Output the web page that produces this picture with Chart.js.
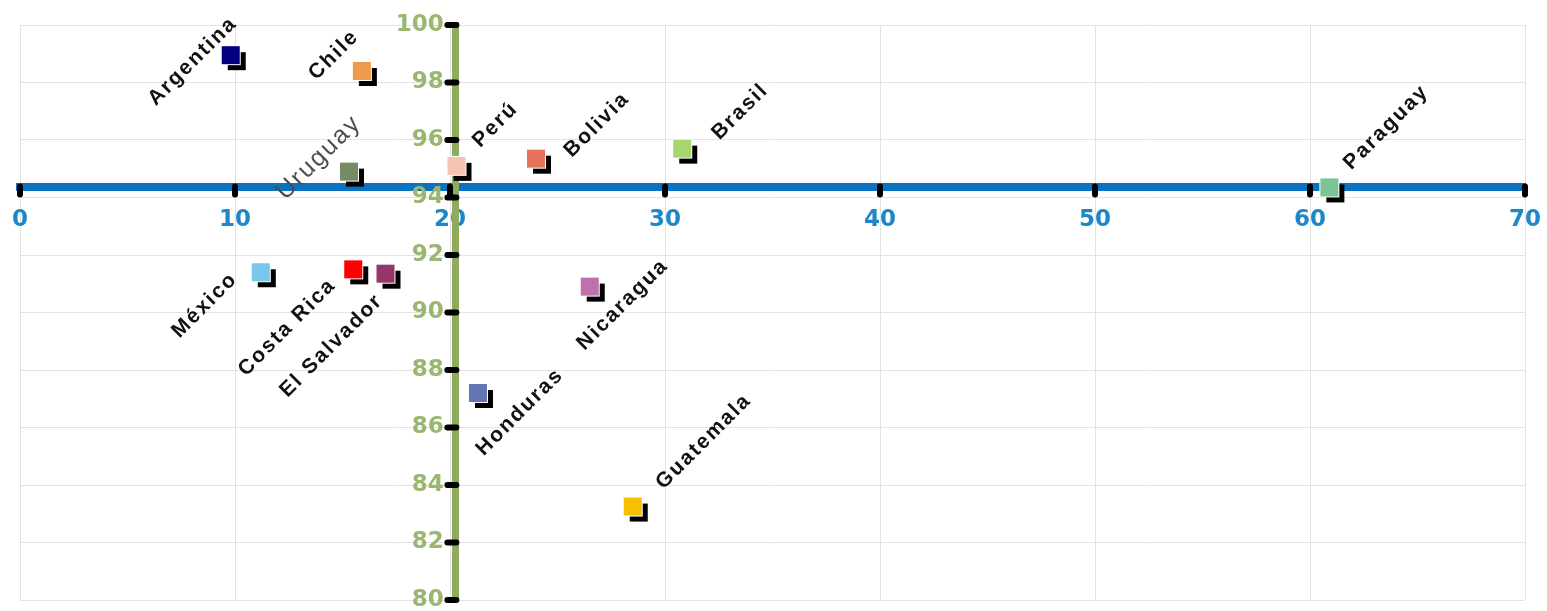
<!DOCTYPE html>
<html>
<head>
<meta charset="utf-8">
<script src="https://cdn.jsdelivr.net/npm/chart.js@4.4.1/dist/chart.umd.min.js"></script>
<style>
  html, body { margin: 0; padding: 0; background: #fff; }
  #wrap { width: 1547px; height: 611px; position: relative; }
</style>
</head>
<body>
<div id="wrap"><canvas id="countryChart"></canvas></div>
<script>
//Countries and their values
let countries = ['Argentina', 'Chile', 'Uruguay', 'Perú', 'Bolivia', 'Brasil', 'Paraguay',
    'México', 'Costa Rica', 'El Salvador', 'Nicaragua', 'Honduras', 'Guatemala']
let xValues = [9.8, 15.9, 15.3, 20.3, 24.0, 30.8, 60.9, 11.2, 15.5, 17.0, 26.5, 21.3, 28.5]
let yValues = [98.95, 98.4, 94.9, 95.1, 95.35, 95.7, 94.35, 91.4, 91.5, 91.35, 90.9, 87.2, 83.25]

//Tick labels
let xTicks = [0, 10, 20, 30, 40, 50, 60, 70]
let yTicks = [80, 82, 84, 86, 88, 90, 92, 94, 96, 98, 100]

//where the axes cross
let xAxisAtY = 94.35
let yAxisAtX = 20.25

//marker colors
let colors = ['#000080', '#ef9b4c', '#778a66', '#f6c4b3', '#e5735c', '#a6d672', '#7cc396',
    '#78c8ee', '#ff0000', '#963567', '#bf70ad', '#6576b7', '#f5c000']

//label offsets from the marker (pixels) - labels sit at different sides
let labelShift = [[-38, 6], [-28, -16], [-30, -14], [39, -41], [61, -34], [58, -37], [57, -60],
    [-56, 33], [-66, 58], [-54, 72], [33, 18], [42, 19], [71, -65]]
let plainLabels = ['Uruguay']

//square marker with white edge and black drop shadow
function makeMarker(color) {
    let c = document.createElement('canvas')
    c.width = 32
    c.height = 32
    let g = c.getContext('2d')
    g.fillStyle = '#000'
    g.fillRect(13, 13, 18, 18)
    g.fillStyle = '#fff'
    g.fillRect(6, 6, 20, 20)
    g.fillStyle = color
    g.fillRect(7, 7, 18, 18)
    return c
}

//keep the axes from pushing the plot area in
function noPadding(s) {
    s.paddingLeft = 0
    s.paddingRight = 0
    s.paddingTop = 0
    s.paddingBottom = 0
}

//black rounded tick marks on both axes
const axisTicks = {
    id: 'axisTicks',
    beforeDatasetsDraw(chart) {
        let ctx = chart.ctx
        let x = chart.scales.x, y = chart.scales.y
        let ax = x.getPixelForValue(yAxisAtX)
        let ay = y.getPixelForValue(xAxisAtY)
        ctx.save()
        ctx.strokeStyle = '#000'
        ctx.lineWidth = 6
        ctx.lineCap = 'round'
        ctx.beginPath()
        xTicks.forEach(v => {
            let px = x.getPixelForValue(v)
            ctx.moveTo(px, ay - 1)
            ctx.lineTo(px, ay + 7)
        })
        yTicks.forEach(v => {
            let py = y.getPixelForValue(v)
            ctx.moveTo(ax - 8, py)
            ctx.lineTo(ax + 1, py)
        })
        ctx.stroke()
        ctx.restore()
    }
}

//rotated country names
const pointLabels = {
    id: 'pointLabels',
    afterDatasetsDraw(chart) {
        let ctx = chart.ctx
        chart.getDatasetMeta(0).data.forEach((pt, i) => {
            let name = countries[i]
            let plain = plainLabels.includes(name)
            ctx.save()
            ctx.translate(pt.x + labelShift[i][0], pt.y + labelShift[i][1])
            ctx.rotate(-Math.PI / 4)
            ctx.font = plain ? '25px "Liberation Sans", Arial, sans-serif' : 'bold 21px "Liberation Sans", Arial, sans-serif'
            ctx.letterSpacing = '2px'
            ctx.fillStyle = plain ? '#4d4d4d' : '#111'
            ctx.textAlign = 'center'
            ctx.textBaseline = 'middle'
            ctx.fillText(name, 0, 0)
            ctx.restore()
        })
    }
}

let points = countries.map((c, i) => ({x: xValues[i], y: yValues[i]}))

new Chart(document.getElementById('countryChart'), {
    type: 'scatter',
    data: {
        datasets: [{
            label: 'Países',
            data: points,
            pointStyle: colors.map(makeMarker),
            pointRadius: 10,
            pointHoverRadius: 10
        }]
    },
    options: {
        responsive: true,
        maintainAspectRatio: false,
        animation: false,
        layout: {padding: {left: 20, right: 22, top: 25, bottom: 11}},
        plugins: {legend: {display: false}, tooltip: {enabled: false}},
        scales: {
            x: {
                type: 'linear',
                min: 0,
                max: 70,
                position: {y: xAxisAtY},
                afterBuildTicks: s => { s.ticks = xTicks.map(v => ({value: v})) },
                afterFit: noPadding,
                grid: {color: '#e2e2e2', lineWidth: 1, drawTicks: false},
                border: {color: '#0a73c1', width: 8},
                ticks: {
                    padding: 19,
                    maxRotation: 0,
                    autoSkip: false,
                    color: '#1c87c9',
                    font: {family: '"DejaVu Sans"', size: 23, weight: 'bold'}
                }
            },
            y: {
                type: 'linear',
                min: 80,
                max: 100,
                position: {x: yAxisAtX},
                afterBuildTicks: s => { s.ticks = yTicks.map(v => ({value: v})) },
                afterFit: noPadding,
                grid: {color: '#e2e2e2', lineWidth: 1, drawTicks: false},
                border: {color: '#8fab5e', width: 7},
                ticks: {
                    autoSkip: false,
                    color: '#9ab66f',
                    font: {family: '"DejaVu Sans"', size: 23, weight: 'bold'},
                    callback: v => v + '\u2002'
                }
            }
        }
    },
    plugins: [axisTicks, pointLabels]
})
</script>
</body>
</html>
